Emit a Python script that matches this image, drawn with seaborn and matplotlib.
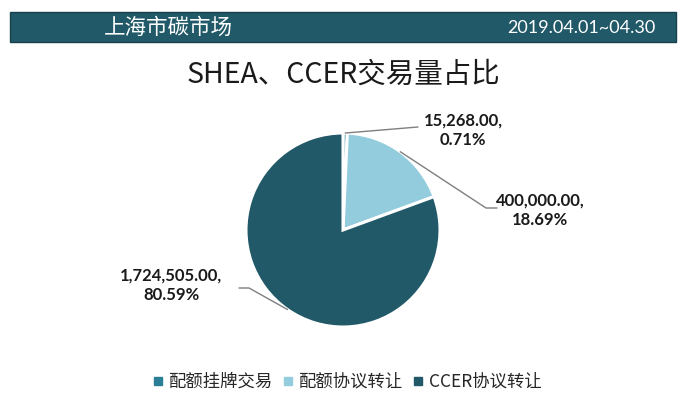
import numpy as np
import matplotlib
matplotlib.use("Agg")
import matplotlib.pyplot as plt
from matplotlib.patches import Rectangle
from matplotlib.lines import Line2D
import seaborn as sns

sns.set_theme(style="white")
plt.rcParams["font.family"] = ["Noto Sans CJK SC", "DejaVu Sans"]

# Trading volume by type (Shanghai carbon market, April 2019)
categories = ["配额挂牌交易", "配额协议转让", "CCER协议转让"]
volumes = [15268.00, 400000.00, 1724505.00]
percent_labels = ["0.71%", "18.69%", "80.59%"]
colors = ["#2a7f96", "#93cddd", "#215968"]

header_left = "上海市碳市场"
header_right = "2019.04.01~04.30"
title = "SHEA、CCER交易量占比"

W, H = 687, 413
fig = plt.figure(figsize=(W / 100, H / 100), dpi=100)
fig.patch.set_facecolor("white")

# Header band
fig.patches.append(Rectangle((10 / W, 1 - 42 / H), 666 / W, 30 / H,
                             transform=fig.transFigure, facecolor="#215968",
                             edgecolor="#17404b", linewidth=1.0, zorder=0))
fig.text(168 / W, 1 - 28 / H, header_left, color="white", fontsize=15.5,
         ha="center", va="center")
fig.text(655 / W, 1 - 28 / H, header_right, color="white", fontsize=13,
         ha="right", va="center", family=["Lato", "DejaVu Sans"])

fig.text(343 / W, 1 - 75 / H, title, color="#1a1a1a", fontsize=20.5,
         ha="center", va="center")

# Pie axes: 1 data unit = 100 px, centred on the pie
cx, cy = 343, 230
ax = fig.add_axes([(cx - 150) / W, (H - cy - 150) / H, 300 / W, 300 / H])
ax.axis("off")

R = 0.97
wedges, _ = ax.pie(volumes, colors=colors, startangle=90, counterclock=False,
                   radius=R, wedgeprops=dict(edgecolor="white", linewidth=2.2))
ax.set_xlim(-1.5, 1.5)
ax.set_ylim(-1.5, 1.5)
ax.set_aspect("equal")

# Leader lines and value labels
label_pos = [(1.20, 1.00), (1.97, 0.20), (-1.72, -0.55)]
elbows = [None, (1.43, 0.22), (-0.94, -0.58)]
ends = [(0.75, 1.03), (1.54, 0.22), (-1.04, -0.58)]
for w, v, p, pos, elb, end in zip(wedges, volumes, percent_labels,
                                  label_pos, elbows, ends):
    ang = np.deg2rad((w.theta1 + w.theta2) / 2)
    start = (R * np.cos(ang), R * np.sin(ang))
    pts = [start] + ([elb] if elb else []) + [end]
    xs, ys = zip(*pts)
    ax.plot(xs, ys, color="#7f7f7f", linewidth=1.0, clip_on=False)
    ax.text(pos[0], pos[1], f"{v:,.2f},\n{p}", ha="center", va="center",
            fontsize=12, fontweight="bold", color="#1a1a1a",
            family=["Lato", "DejaVu Sans"], linespacing=1.3, clip_on=False)

handles = [Line2D([], [], marker="s", linestyle="", markersize=6,
                  markerfacecolor=c, markeredgecolor=c) for c in colors]
fig.legend(handles, categories, loc="center", ncol=3,
           bbox_to_anchor=(346 / W, 1 - 382 / H), frameon=False,
           fontsize=12.5, handletextpad=0.2, columnspacing=0.5,
           handlelength=0.8)

fig.savefig("out.png", dpi=100, facecolor="white")
